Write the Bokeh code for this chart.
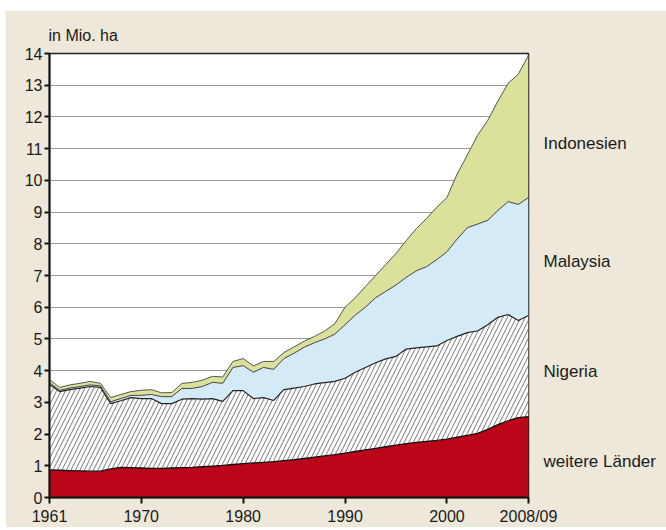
from bokeh.plotting import figure
from bokeh.models import ColumnDataSource, FixedTicker, LinearAxis, Range1d, Spacer, Title
from bokeh.layouts import column, row
from bokeh.embed import file_html
from bokeh.resources import INLINE

years = list(range(1961, 2009))

weitere = [0.87, 0.86, 0.85, 0.84, 0.83, 0.83, 0.90, 0.95, 0.94, 0.93,
           0.92, 0.92, 0.93, 0.94, 0.95, 0.97, 0.99, 1.01, 1.04, 1.07,
           1.09, 1.11, 1.13, 1.16, 1.19, 1.23, 1.27, 1.31, 1.35, 1.40,
           1.45, 1.50, 1.55, 1.60, 1.65, 1.70, 1.74, 1.77, 1.80, 1.84,
           1.90, 1.96, 2.02, 2.15, 2.30, 2.42, 2.52, 2.55]
nigeria = [2.69, 2.48, 2.55, 2.61, 2.67, 2.64, 2.06, 2.10, 2.21, 2.19,
           2.20, 2.04, 2.03, 2.16, 2.17, 2.13, 2.13, 2.02, 2.33, 2.30,
           2.03, 2.04, 1.93, 2.24, 2.26, 2.27, 2.31, 2.31, 2.31, 2.36,
           2.50, 2.60, 2.70, 2.77, 2.80, 2.98, 2.98, 2.98, 2.98, 3.11,
           3.18, 3.24, 3.23, 3.30, 3.38, 3.35, 3.06, 3.19]
malaysia = [0.06, 0.04, 0.05, 0.05, 0.05, 0.05, 0.06, 0.07, 0.07, 0.10,
            0.13, 0.22, 0.22, 0.34, 0.32, 0.40, 0.51, 0.57, 0.73, 0.79,
            0.83, 0.95, 0.98, 0.98, 1.10, 1.24, 1.30, 1.38, 1.49, 1.69,
            1.80, 1.90, 2.05, 2.13, 2.25, 2.26, 2.43, 2.53, 2.72, 2.80,
            3.07, 3.31, 3.37, 3.29, 3.37, 3.56, 3.66, 3.72]
indonesien = [0.10, 0.09, 0.10, 0.10, 0.11, 0.08, 0.13, 0.13, 0.12, 0.16,
              0.15, 0.12, 0.13, 0.16, 0.19, 0.20, 0.19, 0.20, 0.19, 0.22,
              0.20, 0.19, 0.25, 0.19, 0.20, 0.19, 0.20, 0.25, 0.33, 0.55,
              0.55, 0.65, 0.70, 0.85, 0.99, 1.16, 1.33, 1.52, 1.65, 1.71,
              2.05, 2.29, 2.80, 3.15, 3.45, 3.73, 4.11, 4.48]

series_names = ["weitere Länder", "Nigeria", "Malaysia", "Indonesien"]
x_ticks = [1961, 1970, 1980, 1990, 2000, 2008]
x_tick_labels = {2008: "2008/09"}
y_ticks = list(range(0, 15))
unit_label = "in Mio. ha"
# vertical anchor of each series name at the right edge
name_anchor = [1.15, 3.97, 7.44, 11.16]

FONT = "Liberation Sans"
BG = "#ede8d9"
TXT = "#1a1a1a"

source = ColumnDataSource(dict(year=years, w=weitere, n=nigeria, m=malaysia, i=indonesien))

p = figure(width=661, height=517, output_backend="svg", toolbar_location=None,
           x_range=Range1d(1961, 2008), y_range=Range1d(0, 14),
           min_border_left=44, min_border_right=138, min_border_top=43, min_border_bottom=28)
p.border_fill_color = BG
p.background_fill_color = "white"
p.outline_line_color = "#222222"
p.outline_line_width = 1.5

stackers = ["w", "n", "m", "i"]
p.varea_stack(stackers, x="year", source=source,
              color=["#bb0519", "white", "#d5eaf7", "#dbe09b"],
              hatch_pattern=[" ", "/", " ", " "],
              hatch_color="#7a7a7a", hatch_scale=9, hatch_weight=1)
p.vline_stack(stackers, x="year", source=source,
              line_color=["#111111", "#222222", "#444444", "#555555"],
              line_width=[1.3, 1.2, 1.0, 1.0])

# axes
p.xaxis.ticker = FixedTicker(ticks=x_ticks)
p.xaxis.major_label_overrides = x_tick_labels
p.yaxis.ticker = FixedTicker(ticks=y_ticks)
for ax in (p.xaxis[0], p.yaxis[0]):
    ax.axis_line_color = "#111111"
    ax.axis_line_width = 2
    ax.major_tick_line_color = "#111111"
    ax.major_tick_line_width = 2
    ax.major_tick_in = 0
    ax.minor_tick_line_color = None
    ax.major_label_text_font = FONT
    ax.major_label_text_font_size = "16px"
    ax.major_label_text_color = TXT
p.yaxis.major_tick_out = 5
p.yaxis.major_label_standoff = 2
p.xaxis.major_tick_out = 6
p.xaxis.major_label_standoff = 4

p.xgrid.grid_line_color = None
p.ygrid.ticker = FixedTicker(ticks=y_ticks)
p.ygrid.grid_line_color = "#9a9a9a"
p.ygrid.grid_line_width = 1

# series names as a right-hand axis without line/ticks
name_axis = LinearAxis(ticker=FixedTicker(ticks=name_anchor),
                       major_label_overrides={v: n for v, n in zip(name_anchor, series_names)},
                       axis_line_color=None, major_tick_line_color=None,
                       minor_tick_line_color=None, major_label_standoff=9,
                       major_label_text_font=FONT, major_label_text_font_size="17px",
                       major_label_text_color=TXT)
p.add_layout(name_axis, "right")

p.add_layout(Title(text=unit_label, text_font=FONT, text_font_size="16px",
                   text_font_style="normal", text_color=TXT, align="left",
                   standoff=20, offset=-1), "above")

layout = column(Spacer(height=10, width=666),
                row(Spacer(width=5, height=517), p))

open("out.html", "w").write(file_html(layout, INLINE))
